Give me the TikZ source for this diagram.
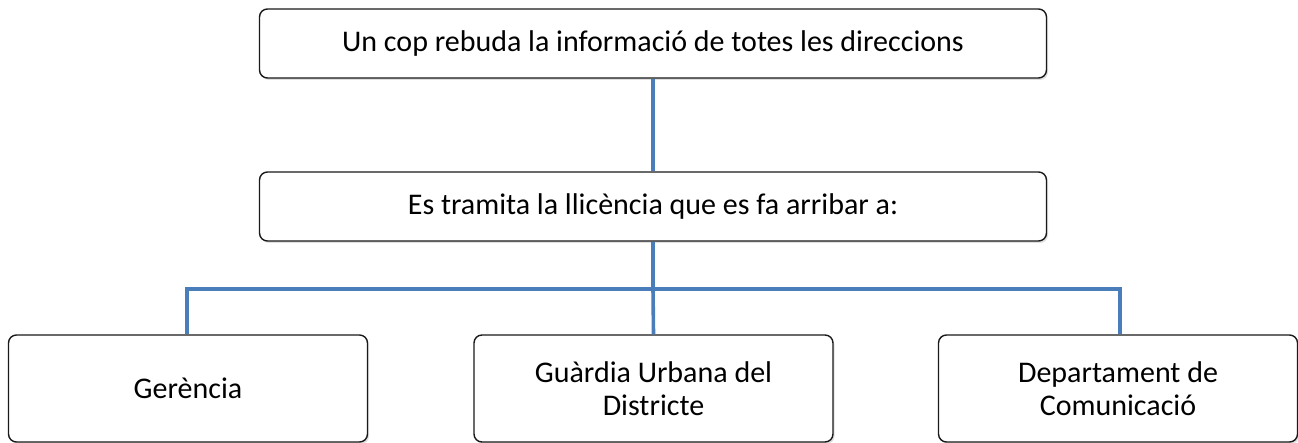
\documentclass[tikz,border=0pt]{standalone}
\usepackage{fontspec}
\setmainfont{Carlito}
\usetikzlibrary{shadows}
\definecolor{linkblue}{HTML}{4A7EBB}
\definecolor{boxline}{HTML}{1A1A1A}
\begin{document}
\begin{tikzpicture}[x=1pt,y=-1pt,
  box/.style={draw=boxline, line width=1.4pt, rounded corners=8pt, fill=white,
    drop shadow={shadow xshift=1.5pt, shadow yshift=-2pt, opacity=0.25},
    align=center, font=\fontsize{30}{33}\selectfont, inner sep=0pt},
  link/.style={draw=linkblue, line width=3.6pt}]
\useasboundingbox (0,0) rectangle (1298,443);
\node[box, minimum width=787pt, minimum height=69pt] (top) at (653,43.5) {Un cop rebuda la informació de totes les direccions};
\node[box, minimum width=787pt, minimum height=69pt] (mid) at (653,206.5) {Es tramita la llicència que es fa arribar a:};
\coordinate (hub) at (653,289);
\coordinate (hl) at (187,289);
\coordinate (hr) at (1120,289);
\node[box, minimum width=359pt, minimum height=107pt] (g) at (188,388.5) {Gerència};
\node[box, minimum width=359pt, minimum height=107pt] (u) at (653.5,388.5) {Guàrdia Urbana del\\Districte};
\node[box, minimum width=359pt, minimum height=107pt] (d) at (1118,388.5) {Departament de\\Comunicació};
\draw[link] (top.south) -- (mid.north);
\draw[link] (mid.south) -- (hub);
\draw[link] (hl |- g.north) -- (hl) -- (hr) -- (hr |- d.north);
\draw[link] (hub) -- (u.north);
\end{tikzpicture}
\end{document}
